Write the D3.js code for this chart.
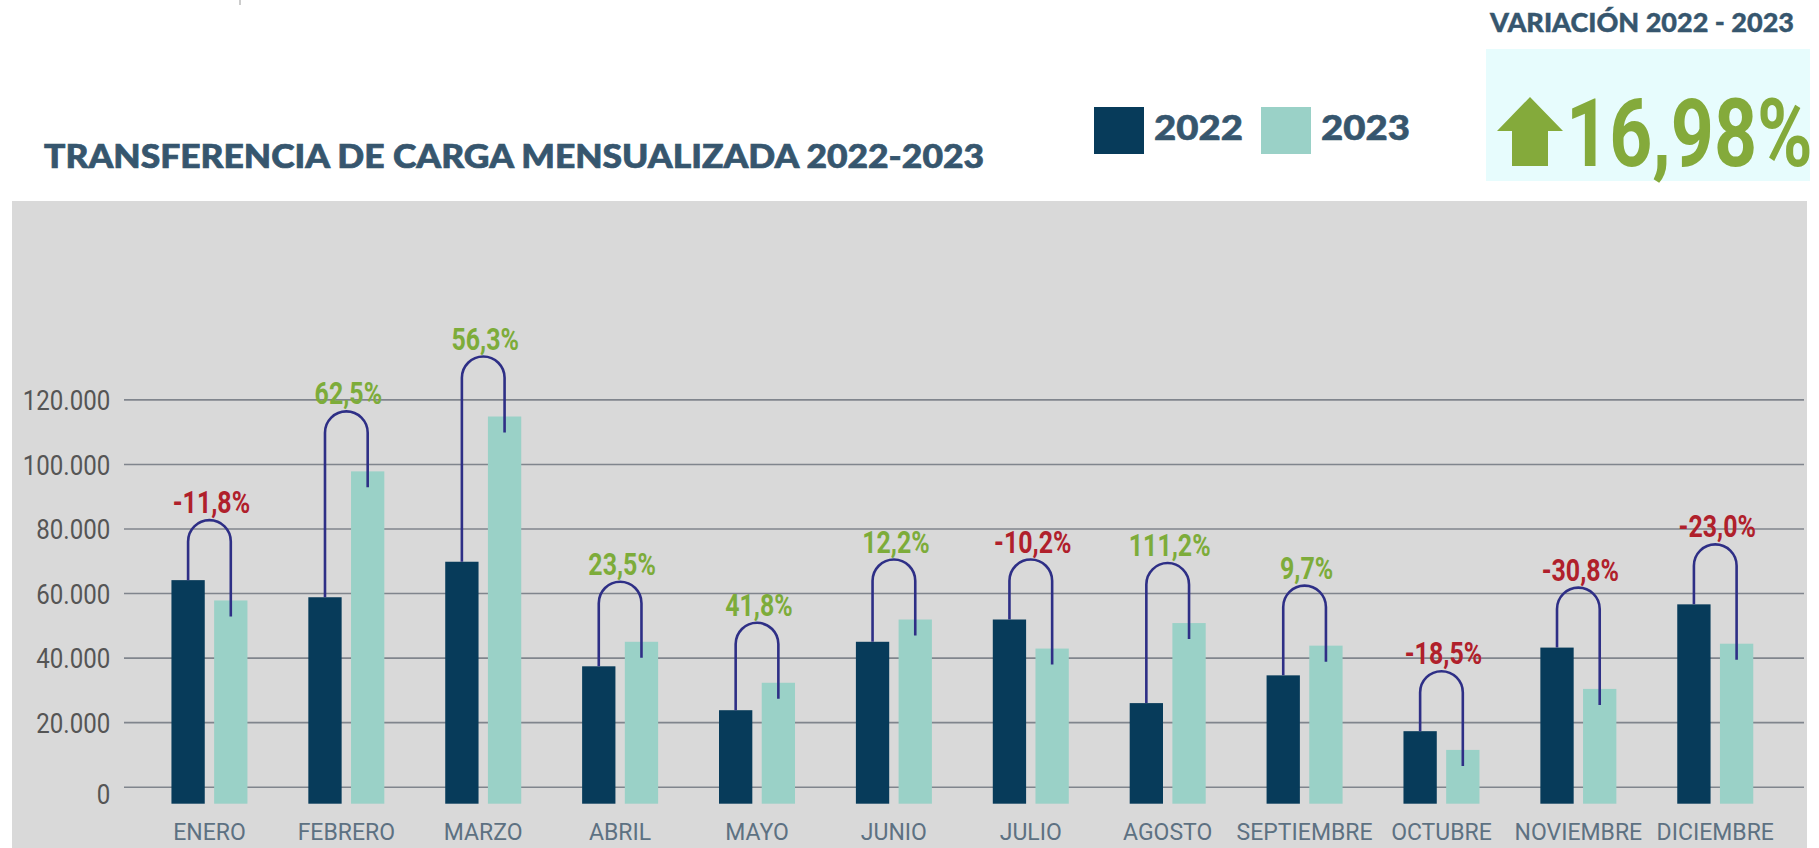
<!DOCTYPE html>
<html>
<head>
<meta charset="utf-8">
<script src="https://cdn.jsdelivr.net/npm/d3@7"></script>
<style>
  html, body { margin: 0; padding: 0; background: #ffffff; }
  svg { display: block; }
</style>
</head>
<body>
<svg id="chart" width="1819" height="848"></svg>
<script>
// Monthly cargo transfer, 2022 vs 2023
const months = ['ENERO', 'FEBRERO', 'MARZO', 'ABRIL', 'MAYO', 'JUNIO', 'JULIO',
                'AGOSTO', 'SEPTIEMBRE', 'OCTUBRE', 'NOVIEMBRE', 'DICIEMBRE'];
const values2022 = [64000, 58700, 69700, 37300, 23700, 44900, 51800, 25900, 34500, 17200, 43100, 56500];
const values2023 = [57700, 97700, 114700, 44900, 32200, 51800, 42800, 50700, 43700, 11400, 30300, 44300];
const changeLabels = ['-11,8%', '62,5%', '56,3%', '23,5%', '41,8%', '12,2%', '-10,2%',
                      '111,2%', '9,7%', '-18,5%', '-30,8%', '-23,0%'];
const yTicks = [0, 20000, 40000, 60000, 80000, 100000, 120000];
const seriesNames = ['2022', '2023'];
const titleText = 'TRANSFERENCIA DE CARGA MENSUALIZADA 2022-2023';
const totalTitle = 'VARIACIÓN 2022 - 2023';
const totalChange = '16,98%';

const C = {
  bar2022: '#073b5a',
  bar2023: '#9ad1c7',
  panel: '#d9d9d9',
  grid: '#80858d',
  title: '#36566e',
  tick: '#555555',
  month: '#5d7182',
  up: '#7dac3a',
  down: '#b0202b',
  hook: '#2e2f86',
  box: '#e7fcfd',
  big: '#84aa3b'
};

const svg = d3.select('#chart');
const esLocale = d3.formatLocale({ decimal: ',', thousands: '.', grouping: [3], currency: ['', ''] });
const fmt = esLocale.format(',');

// ---- header ----
svg.append('text')
  .attr('x', 44).attr('y', 168)
  .attr('font-family', 'Lato, sans-serif').attr('font-weight', 900)
  .attr('font-size', 32).attr('fill', C.title)
  .attr('stroke', C.title).attr('stroke-width', 0.7)
  .attr('textLength', 940).attr('lengthAdjust', 'spacingAndGlyphs')
  .text(titleText);

// legend
const legendX = [1094, 1261];
seriesNames.forEach((name, i) => {
  svg.append('rect').attr('x', legendX[i]).attr('y', 107).attr('width', 50).attr('height', 47)
    .attr('fill', i === 0 ? C.bar2022 : C.bar2023);
  svg.append('text').attr('x', legendX[i] + 60).attr('y', 140)
    .attr('font-family', 'Lato, sans-serif').attr('font-weight', 900)
    .attr('font-size', 34).attr('fill', C.title)
    .attr('stroke', C.title).attr('stroke-width', 0.6)
    .attr('textLength', 89).attr('lengthAdjust', 'spacingAndGlyphs')
    .text(name);
});

// total variation box
svg.append('text').attr('x', 1490).attr('y', 32)
  .attr('font-family', 'Lato, sans-serif').attr('font-weight', 900)
  .attr('font-size', 26).attr('fill', C.title)
  .attr('stroke', C.title).attr('stroke-width', 0.4)
  .attr('textLength', 304).attr('lengthAdjust', 'spacingAndGlyphs')
  .text(totalTitle);
svg.append('rect').attr('x', 1486).attr('y', 49).attr('width', 324).attr('height', 132).attr('fill', C.box);
// up arrow
svg.append('path')
  .attr('d', 'M1530,97 L1563,131 L1548,131 L1548,166 L1512,166 L1512,131 L1497,131 Z')
  .attr('fill', C.big);
svg.append('text')
  .attr('transform', 'translate(1566,166) scale(0.8,1)')
  .attr('font-family', 'Roboto, sans-serif').attr('font-weight', 700)
  .attr('font-size', 94).attr('fill', C.big)
  .text(totalChange);

// small mark at the top edge
svg.append('line').attr('x1', 240).attr('x2', 240).attr('y1', 0).attr('y2', 5)
  .attr('stroke', '#999').attr('stroke-width', 1);

// ---- chart panel ----
svg.append('rect').attr('x', 12).attr('y', 201).attr('width', 1795).attr('height', 647).attr('fill', C.panel);

const gridLeft = 124, gridRight = 1804;
const y = d3.scaleLinear().domain([0, 120000]).range([786.7, 399.4]);
const x = d3.scaleBand().domain(months).range([141, 1783.7]).paddingInner(0).paddingOuter(0);
const pairWidth = 76;
const xs = d3.scaleBand().domain(seriesNames).range([-pairWidth / 2, pairWidth / 2]).paddingInner(0.22);

// gridlines + tick labels
const yAxis = d3.axisLeft(y).tickValues(yTicks).tickFormat(fmt)
  .tickSize(-(gridRight - gridLeft)).tickPadding(16);
const gAxis = svg.append('g').attr('transform', `translate(${gridLeft},0)`).call(yAxis);
gAxis.select('.domain').remove();
gAxis.selectAll('.tick line').attr('stroke', C.grid).attr('stroke-width', 1.6);
gAxis.selectAll('.tick text')
  .attr('font-family', 'Roboto, sans-serif').attr('font-size', 28)
  .attr('fill', C.tick).attr('dy', d => d === 0 ? '0.6em' : '0.36em')
  .attr('transform', 'scale(0.86,1)');

// bars: rest on a short plinth below the zero line
const plinth = 17;
const barData = months.map((m, i) => ({ month: m, v: [values2022[i], values2023[i]], label: changeLabels[i] }));

const groups = svg.append('g').selectAll('g.month').data(barData).join('g')
  .attr('class', 'month')
  .attr('transform', d => `translate(${x(d.month) + x.bandwidth() / 2},0)`);

groups.selectAll('rect').data(d => d.v.map((v, k) => ({ s: seriesNames[k], v }))).join('rect')
  .attr('x', d => xs(d.s))
  .attr('width', xs.bandwidth())
  .attr('y', d => y(d.v))
  .attr('height', d => y(0) + plinth - y(d.v))
  .attr('fill', d => d.s === '2022' ? C.bar2022 : C.bar2023);

// connector hooks from the 2022 bar to the 2023 bar
const hookRise = 60, hookDip = 16;
groups.each(function (d) {
  const g = d3.select(this);
  const xl = xs('2022') + xs.bandwidth() / 2;
  const xr = xs('2023') + xs.bandwidth() / 2;
  const r = (xr - xl) / 2;
  const apex = y(Math.max(d.v[0], d.v[1])) - hookRise;
  const p = d3.path();
  p.moveTo(xl, y(d.v[0]));
  p.lineTo(xl, apex + r);
  p.arc(xl + r, apex + r, r, Math.PI, 0, false);
  p.lineTo(xr, y(d.v[1]) + hookDip);
  g.append('path').attr('d', p.toString())
    .attr('fill', 'none').attr('stroke', C.hook).attr('stroke-width', 2.6);
  g.append('text')
    .attr('transform', `translate(${(xl + xr) / 2 + 2},${apex - 7}) scale(0.78,1)`)
    .attr('text-anchor', 'middle')
    .attr('font-family', 'Roboto, sans-serif').attr('font-weight', 700)
    .attr('font-size', 32)
    .attr('fill', d.label.startsWith('-') ? C.down : C.up)
    .text(d.label);
});

// month labels
svg.append('g').selectAll('text').data(months).join('text')
  .attr('x', m => x(m) + x.bandwidth() / 2)
  .attr('y', 840)
  .attr('text-anchor', 'middle')
  .attr('font-family', 'Roboto, sans-serif').attr('font-size', 23)
  .attr('fill', C.month)
  .text(m => m);
</script>
</body>
</html>
